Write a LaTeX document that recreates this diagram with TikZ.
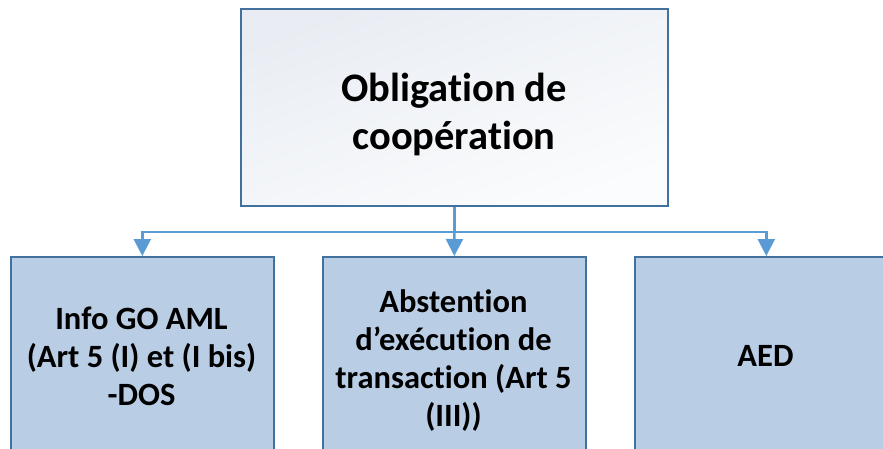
\documentclass[tikz,border=0pt]{standalone}
\usepackage{fontspec}
\setmainfont{Carlito}[Ligatures={NoCommon}]
\usetikzlibrary{arrows.meta,calc}
\definecolor{edgeblue}{HTML}{41719C}
\definecolor{boxfill}{HTML}{B9CDE5}
\definecolor{connblue}{HTML}{5B9BD5}
\definecolor{topfillA}{HTML}{E9EDF3}
\definecolor{topfillB}{HTML}{FBFCFD}
\tikzset{
  topbox/.style={draw=edgeblue, line width=2pt, top color=topfillA, bottom color=topfillB, shading angle=20,
    minimum width=427pt, minimum height=197pt, anchor=north west, inner sep=0pt},
  subbox/.style={draw=edgeblue, line width=1.6pt, fill=boxfill,
    minimum width=263pt, minimum height=240pt, anchor=north west, inner sep=0pt},
  toptext/.style={font=\bfseries\fontsize{40.5}{48}\selectfont, align=center, inner sep=0pt},
  subtext/.style={font=\bfseries\fontsize{32.5}{38}\selectfont, align=center, inner sep=0pt},
  conn/.style={draw=connblue, line width=2.5pt},
  connarrow/.style={conn, -{Triangle[width=17pt,length=17pt]}},
}
\begin{document}
\begin{tikzpicture}[x=1pt,y=1pt]
\useasboundingbox (0,0) rectangle (883,-449);
\clip (0,0) rectangle (883,-449);
\fill[white] (0,0) rectangle (883,-449);
\node[topbox] (top) at (240,-8) {};
\node[subbox] (boxL) at (10,-256) {};
\node[subbox] (boxM) at (322,-256) {};
\node[subbox] (boxR) at (634,-256) {};
\node[toptext] (ttop) at (454,-114) {Obligation de\\coopération};
\node[subtext] (tL) at (141.5,-356) {Info GO AML\\(Art 5 (I) et (I bis)\\-DOS};
\node[subtext] (tM) at (453.5,-361) {Abstention\\d’exécution de\\transaction (Art 5\\(III))};
\node[subtext] (tR) at (765.5,-356) {AED};
\coordinate (j) at ($(top.south)+(0,-25pt)$);
\draw[conn] (top.south) -- (j);
\draw[connarrow] (j) -| (boxL.north);
\draw[connarrow] (j) -- (boxM.north);
\draw[connarrow] (j) -| (boxR.north);
\end{tikzpicture}
\end{document}
